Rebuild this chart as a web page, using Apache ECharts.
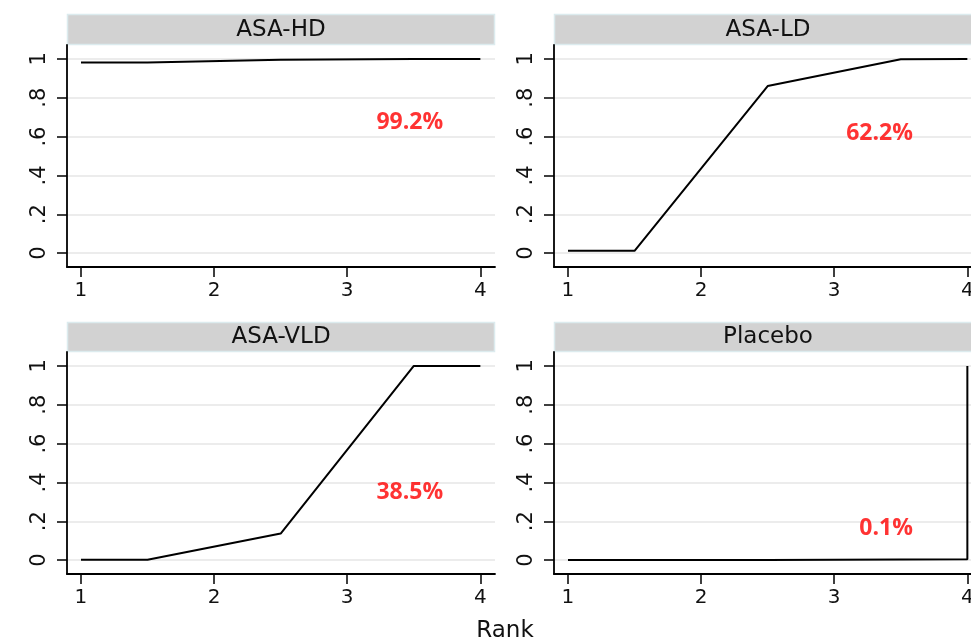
<!DOCTYPE html>
<html>
<head>
<meta charset="utf-8">
<script src="https://cdn.jsdelivr.net/npm/echarts@6/dist/echarts.min.js"></script>
<style>
  html, body { margin: 0; padding: 0; background: #ffffff; overflow: hidden; }
  #chart { width: 990px; height: 644px; }
</style>
</head>
<body>
<div id="chart"></div>
<script>
// Cumulative ranking curves (SUCRA) for four treatments
const treatments = ['ASA-HD', 'ASA-LD', 'ASA-VLD', 'Placebo'];
const rankX = [1, 1.5, 2.5, 3.5, 4, 4];
const cumHD = [0.981, 0.981, 0.995, 1.0, 1.0, 1.0];
const cumLD = [0.012, 0.012, 0.860, 0.998, 1.0, 1.0];
const cumVLD = [0.002, 0.002, 0.137, 1.0, 1.0, 1.0];
const cumPlacebo = [0.0, 0.0, 0.0, 0.003, 0.005, 1.0];
const sucraPct = [99.2, 62.2, 38.5, 0.1];
const xTicks = [1, 2, 3, 4];
const xTickLabels = ['1', '2', '3', '4'];
const yTicks = [0, 0.2, 0.4, 0.6, 0.8, 1];
const yTickLabels = ['0', '.2', '.4', '.6', '.8', '1'];
const xTitle = 'Rank';

const curves = [cumHD, cumLD, cumVLD, cumPlacebo];

// panel layout (pixels); the right column runs past the visible edge
const panelW = 428, plotH = 222;
const panels = [
  { left: 67,  stripTop: 14,  top: 45 },
  { left: 554, stripTop: 14,  top: 45 },
  { left: 67,  stripTop: 322, top: 352 },
  { left: 554, stripTop: 322, top: 352 }
];
// where each SUCRA annotation sits, in rank / probability units
const noteAnchor = [[3.47, 0.674], [3.34, 0.617], [3.47, 0.348], [3.39, 0.161]];

const FONT = 'DejaVu Sans';

function labelFor(v, vals, labels) {
  let best = 0;
  for (let i = 1; i < vals.length; i++) {
    if (Math.abs(vals[i] - v) < Math.abs(vals[best] - v)) best = i;
  }
  return labels[best];
}

const grids = [], xAxes = [], yAxes = [], series = [], graphics = [];

panels.forEach((p, i) => {
  grids.push({ left: p.left, top: p.top, width: panelW, height: plotH, containLabel: false });

  xAxes.push({
    type: 'value', gridIndex: i, min: 0.895, max: 4.11,
    axisLine: { show: true, onZero: false, lineStyle: { color: '#000', width: 1.8 } },
    axisTick: { show: true, length: 10, customValues: xTicks, lineStyle: { color: '#000', width: 1.5 } },
    axisLabel: {
      customValues: xTicks, margin: 14,
      formatter: v => labelFor(v, xTicks, xTickLabels),
      fontFamily: FONT, fontSize: 20, color: '#111'
    },
    splitLine: { show: false }
  });

  yAxes.push({
    type: 'value', gridIndex: i, min: -0.0715, max: 1.0715,
    axisLine: { show: true, onZero: false, lineStyle: { color: '#000', width: 1.8 } },
    axisTick: { show: true, length: 10, customValues: yTicks, lineStyle: { color: '#000', width: 1.5 } },
    axisLabel: {
      customValues: yTicks, rotate: 90, margin: 17,
      formatter: v => labelFor(v, yTicks, yTickLabels),
      fontFamily: FONT, fontSize: 21, color: '#111'
    },
    splitLine: { show: true, lineStyle: { color: '#e6e6e6', width: 1.6 } }
  });

  series.push({
    type: 'line', xAxisIndex: i, yAxisIndex: i,
    data: rankX.map((x, k) => [x, curves[i][k]]),
    showSymbol: false, symbol: 'none',
    lineStyle: { color: '#000', width: 2 },
    silent: true, animation: false
  });

  series.push({
    type: 'scatter', xAxisIndex: i, yAxisIndex: i,
    data: [[noteAnchor[i][0], noteAnchor[i][1], sucraPct[i]]],
    symbolSize: 0, silent: true, animation: false,
    itemStyle: { color: '#ff0000' },
    label: {
      show: true, position: 'inside',
      formatter: d => d.value[2].toFixed(1) + '%',
      fontFamily: 'Open Sans', fontWeight: 'bold', fontSize: 23, color: '#ff0000',
      textBorderWidth: 0, textBorderColor: 'transparent'
    }
  });

  // strip header
  graphics.push({
    type: 'rect', silent: true,
    shape: { x: p.left + 0.5, y: p.stripTop + 0.5, width: panelW - 1, height: p.top - p.stripTop - 1 },
    style: { fill: '#d2d2d2', stroke: '#dcebee', lineWidth: 1.5 }
  });
  graphics.push({
    type: 'text', silent: true,
    x: p.left + panelW / 2, y: (p.stripTop + p.top) / 2 + 0.5,
    style: {
      text: treatments[i], fontFamily: FONT, fontSize: 23, fill: '#111',
      textAlign: 'center', textVerticalAlign: 'middle'
    }
  });
});

graphics.push({
  type: 'text', silent: true, x: 505, y: 631,
  style: { text: xTitle, fontFamily: FONT, fontSize: 23, fill: '#111', textAlign: 'center', textVerticalAlign: 'middle' }
});

const chart = echarts.init(document.getElementById('chart'), null, { renderer: 'canvas' });
chart.setOption({
  animation: false,
  backgroundColor: '#ffffff',
  grid: grids,
  xAxis: xAxes,
  yAxis: yAxes,
  series: series,
  graphic: graphics
});
</script>
</body>
</html>
